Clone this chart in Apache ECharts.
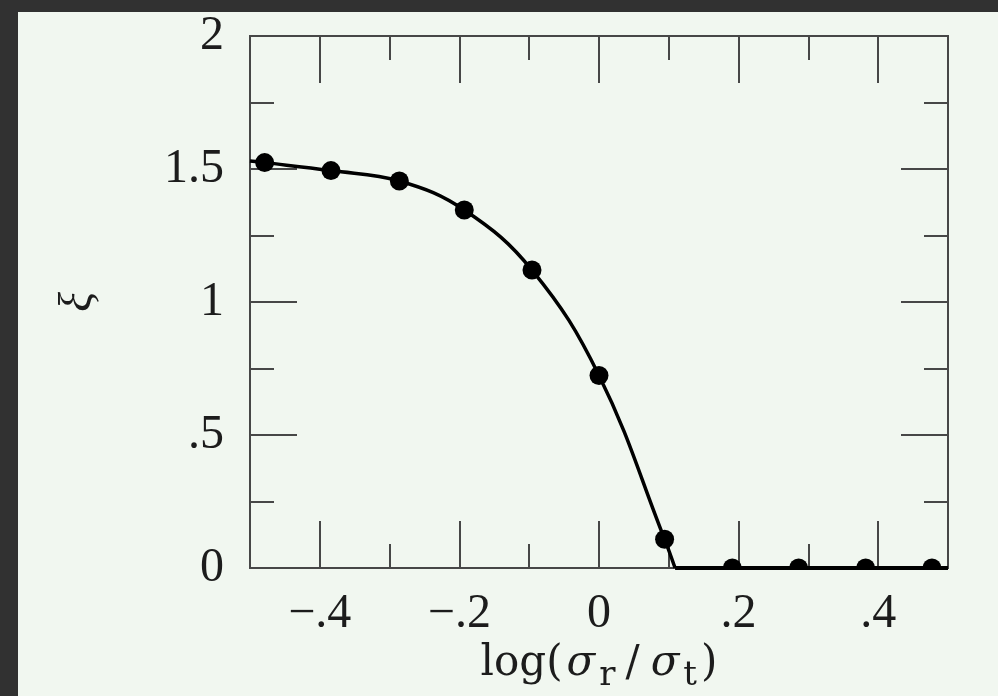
<!DOCTYPE html>
<html>
<head>
<meta charset="utf-8">
<script src="https://cdn.jsdelivr.net/npm/echarts@6/dist/echarts.min.js"></script>
<style>
  html, body { margin: 0; padding: 0; width: 998px; height: 696px; overflow: hidden; background: #313131; }
  #chart { position: absolute; left: 18px; top: 12px; width: 980px; height: 684px; background: #f1f7f0; }
</style>
</head>
<body>
<div id="chart"></div>
<script>
// Measured points (log of the ratio, xi)
const pointX = [-0.479, -0.384, -0.286, -0.193, -0.096, 0.000, 0.094, 0.191, 0.286, 0.382, 0.477];
const pointY = [1.524, 1.494, 1.455, 1.346, 1.120, 0.724, 0.108, 0, 0, 0, 0];

// Model curve: smooth branch down to the cut-off, then flat at zero
const curveX = [-0.5, -0.479, -0.384, -0.286, -0.193, -0.096, 0.000, 0.094, 0.109];
const curveY = [1.53, 1.524, 1.494, 1.455, 1.346, 1.120, 0.724, 0.108, 0];
const flatX = [0.109, 0.5];
const flatY = [0, 0];

// Axis ticks and their labels
const xMajorTicks = [-0.4, -0.2, 0, 0.2, 0.4];
const xMinorTicks = [-0.3, -0.1, 0.1, 0.3];
const xTickLabels = ['\u2212.4', '\u2212.2', '0', '.2', '.4'];
const yTickValues = [0, 0.5, 1, 1.5, 2];
const yTickLabels = ['0', '.5', '1', '1.5', '2'];

const serif = '"Liberation Serif", "DejaVu Serif", serif';
const wideSerif = '"DejaVu Serif", "Liberation Serif", serif';
const axisColor = '#474747';
const textColor = '#1c1c1c';

function zip(a, b) { return a.map((v, i) => [v, b[i]]); }
function lookup(values, labels, v) {
  for (let i = 0; i < values.length; i++) {
    if (Math.abs(values[i] - v) < 1e-6) return labels[i];
  }
  return '';
}

function xAxisDef(position, ticks, len, withLabels) {
  const def = {
    type: 'value', position: position, min: -0.5, max: 0.5,
    axisLine: { show: true, onZero: false, lineStyle: { color: axisColor, width: 2 } },
    axisTick: { show: true, inside: true, length: len, customValues: ticks,
                lineStyle: { color: axisColor, width: 2 } },
    axisLabel: { show: false },
    splitLine: { show: false }
  };
  if (withLabels) {
    def.axisLabel = {
      show: true, customValues: xMajorTicks, margin: 22,
      fontFamily: serif, fontSize: 48, lineHeight: 48, color: textColor,
      formatter: v => lookup(xMajorTicks, xTickLabels, v)
    };
    def.name = '{n|log(}{g|\u03C3}{s|r}{sl|/}{g|\u03C3}{s|t}{n|)}';
    def.nameLocation = 'middle';
    def.nameGap = 75;
    def.nameMoveOverlap = false;
    const base = { fontFamily: wideSerif, fontSize: 42, lineHeight: 42, color: textColor };
    def.nameTextStyle = {
      rich: {
        n: Object.assign({}, base),
        g: Object.assign({}, base, { fontStyle: 'italic', padding: [0, 3, 0, 4] }),
        sl: Object.assign({}, base, { padding: [0, 7, 0, 6] }),
        s: { fontFamily: wideSerif, fontSize: 34, lineHeight: 34, color: textColor, padding: [24, 4, 0, 1] }
      }
    };
  }
  return def;
}

function yAxisDef(position, withLabels) {
  const def = {
    type: 'value', position: position, min: 0, max: 2, interval: 0.5,
    axisLine: { show: true, onZero: false, lineStyle: { color: axisColor, width: 2 } },
    axisTick: { show: true, inside: true, length: 47, lineStyle: { color: axisColor, width: 2 } },
    minorTick: { show: true, splitNumber: 2, length: 24, lineStyle: { color: axisColor, width: 2 } },
    axisLabel: { show: false },
    splitLine: { show: false },
    minorSplitLine: { show: false }
  };
  if (withLabels) {
    def.axisLabel = {
      show: true, margin: 26, fontFamily: serif, fontSize: 48, lineHeight: 48, color: textColor,
      formatter: v => lookup(yTickValues, yTickLabels, v)
    };
    def.name = '\u03BE';
    def.nameLocation = 'middle';
    def.nameRotate = 90;
    def.nameGap = 148;
    def.nameMoveOverlap = false;
    def.nameTextStyle = { fontFamily: serif, fontSize: 46, fontStyle: 'italic', color: textColor };
  }
  return def;
}

const chart = echarts.init(document.getElementById('chart'), null, { renderer: 'canvas' });

chart.setOption({
  animation: false,
  backgroundColor: '#f1f7f0',
  grid: { left: 232, top: 24, right: 50, bottom: 128, containLabel: false, outerBoundsMode: 'none' },
  xAxis: [
    xAxisDef('bottom', xMajorTicks, 47, true),
    xAxisDef('bottom', xMinorTicks, 24, false),
    xAxisDef('top', xMajorTicks, 47, false),
    xAxisDef('top', xMinorTicks, 24, false)
  ],
  yAxis: [
    yAxisDef('left', true),
    yAxisDef('right', false)
  ],
  series: [
    {
      type: 'line', xAxisIndex: 0, yAxisIndex: 0,
      data: zip(curveX, curveY), smooth: 0.4, showSymbol: false, symbol: 'none',
      lineStyle: { color: '#000', width: 3.5 }, z: 3
    },
    {
      type: 'line', xAxisIndex: 0, yAxisIndex: 0,
      data: zip(flatX, flatY), showSymbol: false, symbol: 'none',
      lineStyle: { color: '#000', width: 4 }, z: 3
    },
    {
      type: 'custom', xAxisIndex: 0, yAxisIndex: 0, z: 4,
      data: zip(pointX, pointY),
      encode: { x: 0, y: 1 },
      renderItem: function (params, api) {
        const c = api.coord([api.value(0), api.value(1)]);
        const bottom = params.coordSys.y + params.coordSys.height;
        const r = 9.5;
        const style = { fill: '#000' };
        if (c[1] >= bottom - 0.5) {
          // points sitting on the lower frame are cut by it
          return { type: 'sector', shape: { cx: c[0], cy: bottom, r: r, r0: 0,
                   startAngle: Math.PI, endAngle: 2 * Math.PI, clockwise: true }, style: style };
        }
        return { type: 'circle', shape: { cx: c[0], cy: c[1], r: r }, style: style };
      }
    }
  ]
});
</script>
</body>
</html>
